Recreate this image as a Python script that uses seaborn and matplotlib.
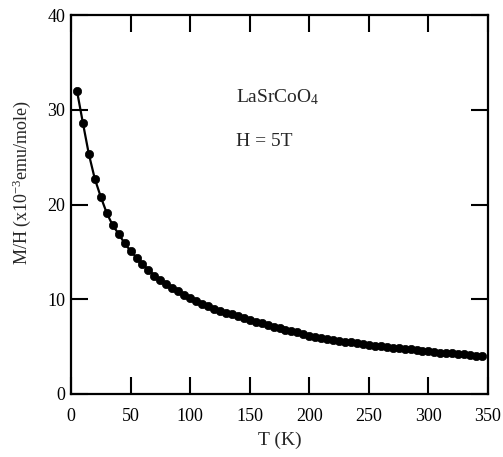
import matplotlib
matplotlib.use("Agg")
import matplotlib.pyplot as plt
import seaborn as sns
import pandas as pd

temperature = [5, 10, 15, 20, 25, 30, 35, 40, 45, 50, 55, 60, 65, 70, 75, 80, 85, 90, 95, 100,
               105, 110, 115, 120, 125, 130, 135, 140, 145, 150, 155, 160, 165, 170, 175, 180,
               185, 190, 195, 200, 205, 210, 215, 220, 225, 230, 235, 240, 245, 250, 255, 260,
               265, 270, 275, 280, 285, 290, 295, 300, 305, 310, 315, 320, 325, 330, 335, 340, 345]
susceptibility = [32.0, 28.6, 25.3, 22.7, 20.8, 19.1, 17.8, 16.9, 15.9, 15.1, 14.4, 13.7, 13.1,
                  12.5, 12.0, 11.6, 11.2, 10.85, 10.45, 10.1, 9.8, 9.5, 9.25, 9.0, 8.8, 8.6, 8.4,
                  8.2, 8.0, 7.8, 7.6, 7.45, 7.3, 7.1, 6.95, 6.8, 6.65, 6.5, 6.3, 6.1, 6.05, 5.95,
                  5.8, 5.7, 5.6, 5.5, 5.45, 5.4, 5.3, 5.2, 5.1, 5.05, 4.95, 4.9, 4.85, 4.8, 4.7,
                  4.65, 4.55, 4.5, 4.45, 4.35, 4.3, 4.3, 4.25, 4.2, 4.1, 4.05, 4.05]
x_ticks = [0, 50, 100, 150, 200, 250, 300, 350]
y_ticks = [0, 10, 20, 30, 40]

sns.set_style("ticks")
plt.rcParams['font.family'] = ['Liberation Serif', 'DejaVu Serif']
plt.rcParams['mathtext.fontset'] = 'custom'
plt.rcParams['mathtext.rm'] = 'Liberation Serif'
plt.rcParams['mathtext.it'] = 'Liberation Serif:italic'

df = pd.DataFrame({"T": temperature, "MH": susceptibility})

fig = plt.figure(figsize=(5.03, 4.57), dpi=100)
ax = fig.add_axes([71 / 503, 63 / 457, 417 / 503, 379 / 457])

sns.lineplot(data=df, x="T", y="MH", ax=ax, color="black", linewidth=1.6,
             marker="o", markersize=6, markeredgecolor="black", markeredgewidth=0.5)

ax.set_xlim(0, 350)
ax.set_ylim(0, 40)
ax.set_xticks(x_ticks)
ax.set_yticks(y_ticks)
ax.tick_params(direction="in", length=12, width=1.5, top=True, right=True,
               labelsize=13, colors="black")
ax.tick_params(axis="x", pad=10)
ax.tick_params(axis="y", pad=4)
for s in ax.spines.values():
    s.set_linewidth(1.6)
    s.set_color("black")

ax.set_xlabel("T (K)", fontsize=14, labelpad=5)
ax.set_ylabel(r"M/H (x10$^{-3}$emu/mole)", fontsize=13)
ax.yaxis.set_label_coords(-0.092, 0.557)

ax.text(138.5, 30.8, r"LaSrCoO$_4$", fontsize=14, va="baseline", ha="left")
ax.text(138.5, 26.2, "H = 5T", fontsize=14, va="baseline", ha="left")

fig.savefig("out.png", dpi=100)
